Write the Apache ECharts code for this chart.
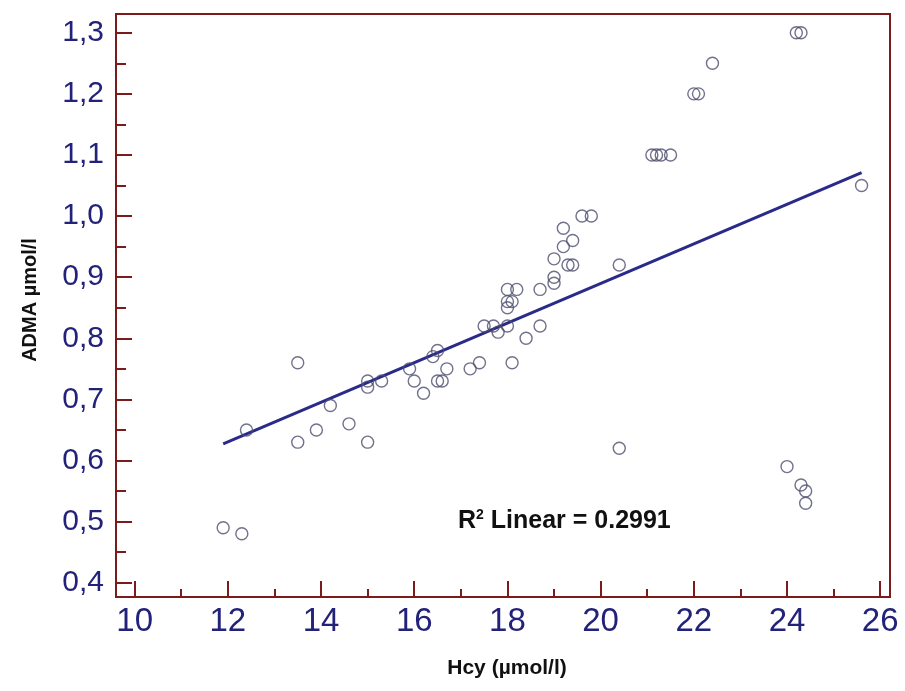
<!DOCTYPE html>
<html>
<head>
<meta charset="utf-8">
<script src="https://cdn.jsdelivr.net/npm/echarts@6/dist/echarts.min.js"></script>
<style>
html,body{margin:0;padding:0;background:#fff;}
#chart{width:905px;height:691px;}
</style>
</head>
<body>
<div id="chart"></div>
<script>
// Hcy (µmol/l) vs ADMA (µmol/l)
const hcy = [11.9,12.3,12.4,13.5,13.5,13.9,14.2,14.6,15.0,15.0,15.0,15.3,15.9,16.0,16.2,16.4,16.5,16.5,16.6,16.7,
             17.2,17.4,17.5,17.7,17.8,18.0,18.1,18.4,18.7,18.0,18.0,18.1,18.0,18.2,18.7,19.0,19.0,19.0,19.2,19.2,
             19.4,19.3,19.4,19.6,19.8,20.4,20.4,21.1,21.2,21.3,21.5,22.0,22.1,22.4,24.2,24.3,25.6,24.0,24.3,24.4,24.4];
const adma = [0.49,0.48,0.65,0.76,0.63,0.65,0.69,0.66,0.63,0.73,0.72,0.73,0.75,0.73,0.71,0.77,0.78,0.73,0.73,0.75,
              0.75,0.76,0.82,0.82,0.81,0.82,0.76,0.80,0.82,0.85,0.86,0.86,0.88,0.88,0.88,0.89,0.90,0.93,0.95,0.98,
              0.96,0.92,0.92,1.00,1.00,0.92,0.62,1.10,1.10,1.10,1.10,1.20,1.20,1.25,1.30,1.30,1.05,0.59,0.56,0.55,0.53];
// fitted linear regression line end points
const fitX = [11.9, 25.6];
const fitY = [0.627, 1.071];
const xMajor = [10,12,14,16,18,20,22,24,26];
const xMinor = [11,13,15,17,19,21,23,25];
const yMajor = [0.4,0.5,0.6,0.7,0.8,0.9,1.0,1.1,1.2,1.3];
const yMinor = [0.45,0.55,0.65,0.75,0.85,0.95,1.05,1.15,1.25];
const xName = 'Hcy (µmol/l)';
const yName = 'ADMA µmol/l';
const r2Text = '0.2991';

const frame = '#7d1a1a';
const navy = '#22227a';
const xMin = 9.6, xMax = 26.21, yMin = 0.3766, yMax = 1.3307;

const chart = echarts.init(document.getElementById('chart'));
const pts = hcy.map((x,i)=>[x, adma[i]]);
const fit = fitX.map((x,i)=>[x, fitY[i]]);

function xAx(vals, len, labels){
  return {type:'value', position:'bottom', min:xMin, max:xMax,
    axisLine:{show:labels, lineStyle:{color:frame, width:2}},
    splitLine:{show:false},
    axisTick:{show:true, inside:true, length:len, customValues:vals, lineStyle:{color:frame, width:2}},
    axisLabel:{show:labels, customValues:vals, color:navy, fontFamily:'Liberation Sans', fontSize:33, margin:8}
  };
}
function yAx(vals, len, labels){
  return {type:'value', position:'left', min:yMin, max:yMax,
    axisLine:{show:labels, lineStyle:{color:frame, width:2}},
    splitLine:{show:false},
    axisTick:{show:true, inside:true, length:len, customValues:vals, lineStyle:{color:frame, width:2}},
    axisLabel:{show:labels, customValues:vals, color:navy, fontFamily:'Liberation Sans', fontSize:30, margin:12,
      formatter:v=>v.toFixed(1).replace('.',',')}
  };
}

chart.setOption({
  animation:false,
  backgroundColor:'#ffffff',
  grid:{left:116, right:15, top:14, bottom:94, show:true, borderColor:frame, borderWidth:2, backgroundColor:'#fff'},
  xAxis:[xAx(xMajor,16,true), xAx(xMinor,8,false)],
  yAxis:[yAx(yMajor,16,true), yAx(yMinor,10,false)],
  graphic:[
    {type:'text', x:30, y:300, rotation:Math.PI/2,
      style:{text:yName, fontFamily:'Liberation Sans', fontWeight:'bold', fontSize:20, fill:'#111', align:'center', verticalAlign:'middle'}},
    {type:'text', x:507, y:668,
      style:{text:xName, fontFamily:'Liberation Sans', fontWeight:'bold', fontSize:21, fill:'#111', align:'center', verticalAlign:'middle'}},
    {type:'text', x:458, y:521,
      style:{text:'{a|R}{s|2}{a| Linear = ' + r2Text + '}', align:'left', verticalAlign:'middle',
        rich:{a:{fontFamily:'Liberation Sans', fontWeight:'bold', fontSize:25, fill:'#111'},
              s:{fontFamily:'Liberation Sans', fontWeight:'bold', fontSize:14, fill:'#111', verticalAlign:'top'}}}}
  ],
  series:[
    {type:'line', xAxisIndex:0, yAxisIndex:0, data:fit, symbol:'none', lineStyle:{color:'#2a2a8a', width:3}, z:2},
    {type:'scatter', xAxisIndex:0, yAxisIndex:0, data:pts, symbol:'circle', symbolSize:12,
      itemStyle:{color:'rgba(0,0,0,0)', borderColor:'#4d4d6e', borderWidth:1.4}, z:3}
  ]
});
</script>
</body>
</html>
